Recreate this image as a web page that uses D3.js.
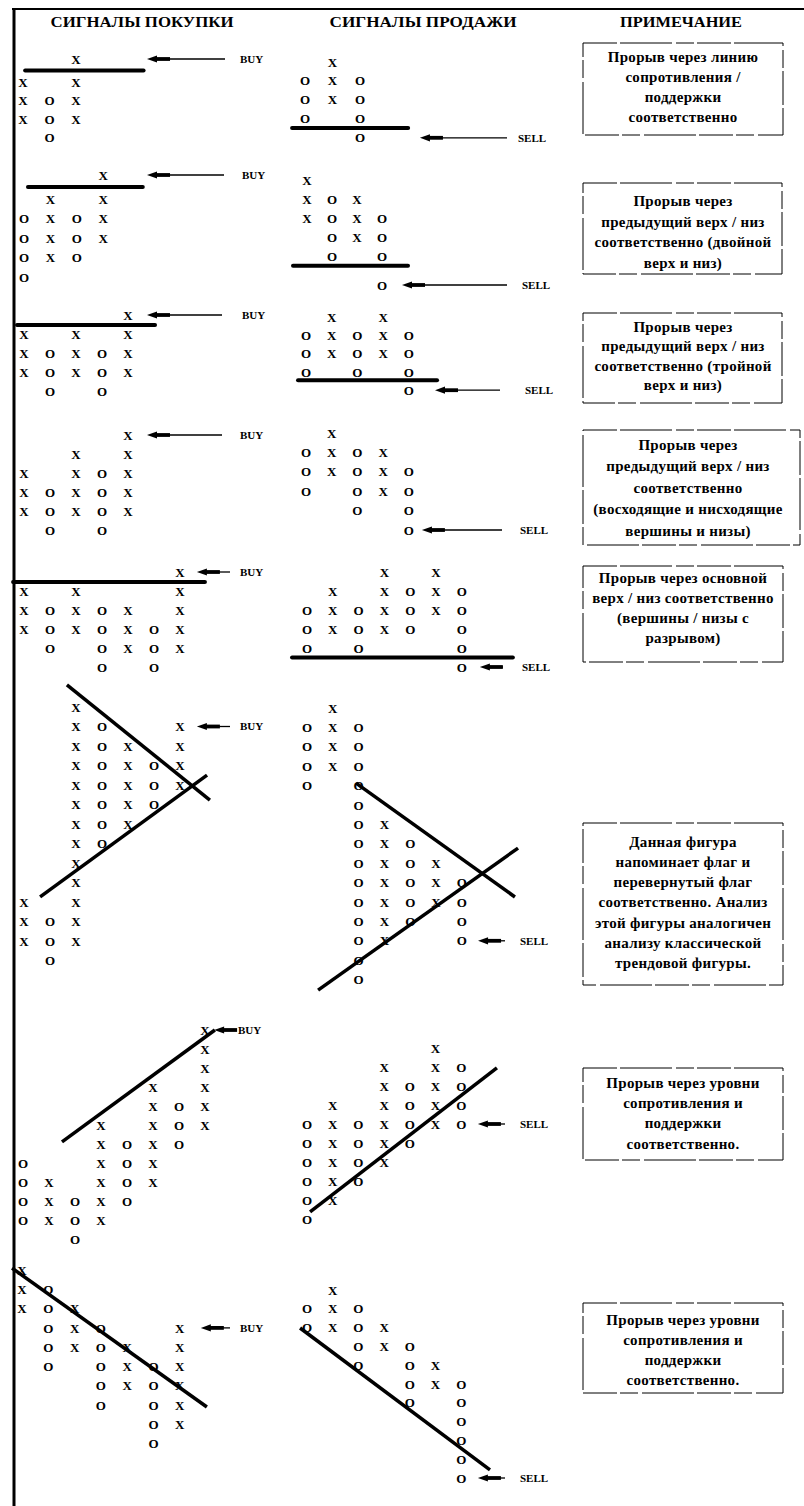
<!DOCTYPE html>
<html><head><meta charset="utf-8">
<script src="https://cdn.jsdelivr.net/npm/d3@7"></script>
<style>body{margin:0;background:#fff}svg{display:block}</style>
</head><body><svg id="c" width="804" height="1506"></svg>
<script>
// ---------- DATA ----------
const headers = ["СИГНАЛЫ ПОКУПКИ", "СИГНАЛЫ ПРОДАЖИ", "ПРИМЕЧАНИЕ"];
const buyLabel = "BUY", sellLabel = "SELL";

// Point & figure patterns (rows top→bottom, columns left→right)
const buy1 = ["  X", "X X", "XOX", "XOX", " O "];
const buy2 = ["   X", " X X", "OXOX", "OXOX", "OXO ", "O   "];
const buy3 = ["    X", "X X X", "XOXOX", "XOXOX", " O O "];
const buy4 = ["    X", "  X X", "X XOX", "XOXOX", "XOXOX", " O O "];
const buy5 = ["      X", "X X   X", "XOXOX X", "XOXOXOX", " O OXOX", "   O O "];
const buy6 = ["  X    ", "  XO  X", "  XOX X", "  XOXOX", "  XOXOX", "  XOXO ", "  XOX  ",
              "  XO   ", "  X    ", "  X    ", "X X    ", "XOX    ", "XOX    ", " O     "];
const buy7 = ["       X", "       X", "       X", "     X X", "     XOX", "   X XOX", "   XOXO ",
              "O  XOX  ", "OX XOX  ", "OXOXO   ", "OXOX    ", "  O     "];
const buy8 = ["X      ", "XO     ", "XOX    ", " OXO  X", " OXOX X", " O OXOX", "   OXOX",
              "   O OX", "     OX", "     O "];

const sell1 = [" X ", "OXO", "OXO", "O O", "  O"];
const sell2 = ["X   ", "XOX ", "XOXO", " OXO", " O O", "   O"];
const sell3 = [" X X ", "OXOXO", "OXOXO", "O O O", "    O"];
const sell4 = [" X   ", "OXOX ", "OXOXO", "O OXO", "  O O", "    O"];
const sell5 = ["   X X ", " X XOXO", "OXOXOXO", "OXOXO O", "O O   O", "      O"];
const sell6 = [" X     ", "OXO    ", "OXO    ", "OXO    ", "O O    ", "  O    ", "  OX   ", "  OXO  ",
               "  OXOX ", "  OXOXO", "  OXOXO", "  OXO O", "  OX  O", "  O    ", "  O    "];
const sell7 = ["     X ", "   X XO", "   XOXO", " X XOXO", "OXOXOXO", "OXOXO  ", "OXOX   ",
               "OXO    ", "OX     ", "O      "];
const sell8 = [" X     ", "OXO    ", "OXOX   ", "  OXO  ", "  O OX ", "    OXO", "    O O",
               "      O", "      O", "      O", "      O"];

// horizontal support/resistance levels: [row, fromCol, toCol]
const buyLevels  = [[0.5, 0.08, 4.55], [0.5, 0.15, 4.5], [0.53, -0.27, 5.04], null, [0.53, -0.42, 6.96], null, null, null];
const sellLevels = [[3.5, -0.47, 3.75], [4.32, -0.56, 4.04], [3.45, -0.31, 5.1], null, [4.5, -0.58, 7.98], null, null, null];

// trend lines: [col1, row1, col2, row2]
const buyTrends  = [[], [], [], [], [],
  [[1.65, -1.13, 7.15, 4.77], [0.62, 9.74, 7.04, 3.49]],
  [[1.5, 5.89, 7.38, 0]],
  [[-0.38, -0.1, 7.03, 7.1]]];
const sellTrends = [[], [], [], [], [],
  [[1.9, 3.87, 8.06, 9.74], [0.43, 14.54, 8.18, 7.22]],
  [[0.12, 8.63, 7.39, 1.05]],
  [[-0.27, 2.02, 7.12, 9.57]]];

// signal rows
const buySignalRows  = [0, 0, 0, 0, 0, 1, 0, 3];
const sellSignalRows = [4, 5, 4, 5, 5, 12, 4, 10];

const notes = [
  ["Прорыв через линию", "сопротивления /", "поддержки", "соответственно"],
  ["Прорыв через", "предыдущий верх / низ", "соответственно (двойной", "верх и низ)"],
  ["Прорыв через", "предыдущий верх / низ", "соответственно (тройной", "верх и низ)"],
  ["Прорыв через", "предыдущий верх / низ", "соответственно", "(восходящие и нисходящие", "вершины и низы)"],
  ["Прорыв через основной", "верх / низ соответственно", "(вершины / низы с", "разрывом)"],
  ["Данная фигура", "напоминает флаг и", "перевернутый флаг", "соответственно. Анализ", "этой фигуры аналогичен", "анализу классической", "трендовой фигуры."],
  ["Прорыв через уровни", "сопротивления и", "поддержки", "соответственно."],
  ["Прорыв через уровни", "сопротивления и", "поддержки", "соответственно."]
];

// ---------- LAYOUT ----------
const buyPatterns = [buy1, buy2, buy3, buy4, buy5, buy6, buy7, buy8];
const sellPatterns = [sell1, sell2, sell3, sell4, sell5, sell6, sell7, sell8];

const buyLayout = [
  {x0: 23, cs: 26.5, y0: 59, step: 18.5, gapAfter: 0, gap: 4.5, tip: 4.68, end: 225, lx: 240},
  {x0: 24, cs: 26.4, y0: 175, step: 19.5, gapAfter: 0, gap: 4.5, tip: 4.66, end: 224, lx: 242},
  {x0: 24, cs: 26, y0: 315, step: 19, tip: 4.73, end: 222, lx: 242},
  {x0: 24, cs: 26, y0: 435, step: 19, tip: 4.73, end: 222, lx: 240},
  {x0: 24, cs: 26, y0: 572, step: 19, tip: 6.65, end: 230, lx: 240},
  {x0: 24, cs: 26, y0: 707, step: 19.5, tip: 6.65, end: 230, lx: 240},
  {x0: 23, cs: 26, y0: 1030, step: 19, tip: 7.35, end: 234, lx: 238},
  {x0: 22, cs: 26.3, y0: 1270, step: 19.3, tip: 6.8, end: 230, lx: 240}
];
const sellLayout = [
  {x0: 305, cs: 27.5, y0: 62, step: 18.7, gapAfter: 3, gap: 1, tip: 4.18, end: 507, lx: 518},
  {x0: 307, cs: 25, y0: 180, step: 19.2, gapAfter: 4, gap: 9, tip: 3.8, end: 507, lx: 522},
  {x0: 306, cs: 25.7, y0: 317, step: 18.3, tip: 5.02, end: 500, lx: 525},
  {x0: 306, cs: 25.7, y0: 433, step: 19.4, tip: 4.51, end: 502, lx: 520},
  {x0: 307, cs: 25.8, y0: 572, step: 19, tip: 6.7, end: 503, lx: 522},
  {x0: 307, cs: 25.8, y0: 708, step: 19.4, tip: 6.63, end: 505, lx: 520},
  {x0: 307, cs: 25.7, y0: 1048, step: 19, tip: 6.65, end: 505, lx: 520},
  {x0: 307, cs: 25.7, y0: 1290, step: 18.8, tip: 6.65, end: 505, lx: 520}
];
const noteLayout = [
  {x: 583, y: 43, w: 200, h: 92, cx: 683, first: 57, lh: 20},
  {x: 583, y: 183, w: 199, h: 91, cx: 683, first: 201, lh: 20.7},
  {x: 583, y: 313, w: 199, h: 90, cx: 683, first: 327, lh: 19.5},
  {x: 583, y: 430, w: 217, h: 115, cx: 688, first: 445, lh: 21.5},
  {x: 583, y: 566, w: 200, h: 96, cx: 683, first: 578, lh: 20},
  {x: 583, y: 823, w: 200, h: 162, cx: 683, first: 842, lh: 20.2},
  {x: 583, y: 1068, w: 200, h: 92, cx: 683, first: 1083, lh: 20.3},
  {x: 583, y: 1303, w: 200, h: 90, cx: 683, first: 1320, lh: 20}
];

const FONT = "'Liberation Serif', 'Times New Roman', serif";
const svg = d3.select("#c");

// frame
svg.append("line").attr("x1", 12).attr("x2", 804).attr("y1", 9).attr("y2", 9)
  .attr("stroke", "#000").attr("stroke-width", 2);
svg.append("line").attr("x1", 14).attr("x2", 14).attr("y1", 8).attr("y2", 1506)
  .attr("stroke", "#000").attr("stroke-width", 3);

// headers
const headerPos = [{cx: 142, w: 183}, {cx: 423, w: 187}, {cx: 681, w: 122}];
svg.selectAll("text.hdr").data(headers).join("text").attr("class", "hdr")
  .attr("x", (d, i) => headerPos[i].cx).attr("y", 27)
  .attr("text-anchor", "middle")
  .attr("textLength", (d, i) => headerPos[i].w).attr("lengthAdjust", "spacingAndGlyphs")
  .style("font-family", FONT).style("font-weight", "bold").style("font-size", "14px")
  .text(d => d);

function drawSection(grid, L, level, trends, sigRow, label) {
  const g = svg.append("g");
  const nR = grid.length;
  const x = d3.scaleLinear().domain([0, 1]).range([L.x0, L.x0 + L.cs]);
  let y;
  if (L.gapAfter != null) {
    const b = L.gapAfter;
    y = d3.scaleLinear().domain([0, b, b + 1, nR])
      .range([L.y0, L.y0 + b * L.step, L.y0 + (b + 1) * L.step + L.gap, L.y0 + nR * L.step + L.gap]);
  } else {
    y = d3.scaleLinear().domain([0, 1]).range([L.y0, L.y0 + L.step]);
  }
  const cells = grid.flatMap((row, r) => [...row].map((ch, c) => ({r, c, ch}))).filter(d => d.ch !== " ");
  g.selectAll("text.sym").data(cells).join("text").attr("class", "sym")
    .attr("x", d => x(d.c)).attr("y", d => y(d.r)).attr("dy", "0.36em")
    .attr("text-anchor", "middle")
    .style("font-family", FONT).style("font-weight", "bold").style("font-size", "13px")
    .text(d => d.ch);
  if (level) {
    g.append("line").attr("x1", x(level[1])).attr("x2", x(level[2]))
      .attr("y1", y(level[0])).attr("y2", y(level[0]))
      .attr("stroke", "#000").attr("stroke-width", 4).attr("stroke-linecap", "round");
  }
  g.selectAll("line.trend").data(trends).join("line").attr("class", "trend")
    .attr("x1", d => x(d[0])).attr("y1", d => y(d[1]))
    .attr("x2", d => x(d[2])).attr("y2", d => y(d[3]))
    .attr("stroke", "#000").attr("stroke-width", 3.5);
  // arrow
  const ay = y(sigRow), tx = x(L.tip);
  g.append("path").attr("d", `M${tx},${ay} L${tx + 10},${ay - 3.6} L${tx + 10},${ay + 3.6} Z`).attr("fill", "#000");
  g.append("rect").attr("x", tx + 9).attr("y", ay - 1.9).attr("width", 14).attr("height", 3.8).attr("fill", "#000");
  if (L.end > tx + 23) {
    g.append("line").attr("x1", tx + 22).attr("x2", L.end).attr("y1", ay).attr("y2", ay)
      .attr("stroke", "#000").attr("stroke-width", 1.3);
  }
  g.append("text").attr("x", L.lx).attr("y", ay).attr("dy", "0.36em")
    .style("font-family", FONT).style("font-weight", "bold").style("font-size", "11px")
    .text(label);
}

buyPatterns.forEach((p, i) => drawSection(p, buyLayout[i], buyLevels[i], buyTrends[i], buySignalRows[i], buyLabel));
sellPatterns.forEach((p, i) => drawSection(p, sellLayout[i], sellLevels[i], sellTrends[i], sellSignalRows[i], sellLabel));

// notes
notes.forEach((lines, i) => {
  const N = noteLayout[i];
  const g = svg.append("g");
  g.append("rect").attr("x", N.x).attr("y", N.y).attr("width", N.w).attr("height", N.h)
    .attr("fill", "none").attr("stroke", "#000").attr("stroke-width", 1)
    .attr("stroke-dasharray", "34 3 52 4 18 3");
  g.selectAll("text").data(lines).join("text")
    .attr("x", N.cx).attr("y", (d, j) => N.first + j * N.lh).attr("dy", "0.32em")
    .attr("text-anchor", "middle")
    .style("font-family", FONT).style("font-weight", "bold").style("font-size", "15px")
    .style("letter-spacing", "0.3px")
    .text(d => d);
});
</script></body></html>
